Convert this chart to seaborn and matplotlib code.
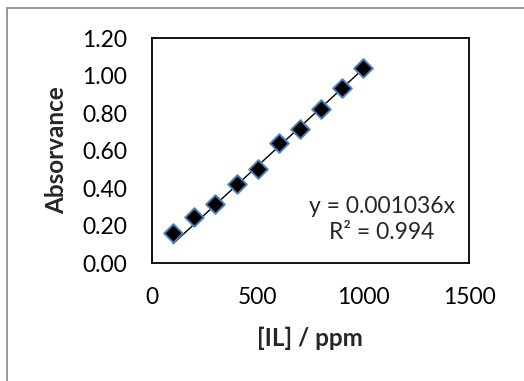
import matplotlib
matplotlib.use("Agg")
import matplotlib.pyplot as plt
import seaborn as sns
import numpy as np
import pandas as pd
from matplotlib.patches import Rectangle

conc = [100, 200, 300, 400, 500, 600, 700, 800, 900, 1000]
absorb = [0.162, 0.245, 0.313, 0.423, 0.503, 0.640, 0.717, 0.821, 0.935, 1.042]
slope = 0.001036
x_ticks = [0, 500, 1000, 1500]
y_ticks = [0.0, 0.2, 0.4, 0.6, 0.8, 1.0, 1.2]

sns.set_theme(style="white")
plt.rcParams['font.family'] = ['Lato', 'DejaVu Sans']

fig = plt.figure(figsize=(5.24, 3.81), dpi=100)
ax = fig.add_axes([152/524, 1-263/381, (469-152)/524, (263-38)/381])

df = pd.DataFrame({"x": conc, "y": absorb})
fit = pd.DataFrame({"x": [conc[0], conc[-1]], "y": [slope*conc[0], slope*conc[-1]]})

sns.lineplot(data=fit, x="x", y="y", ax=ax, color="black", linewidth=1.0, zorder=2)
sns.scatterplot(data=df, x="x", y="y", ax=ax, marker="D", s=90, color="black",
                edgecolor="#4F81BD", linewidth=1.4, zorder=3)

ax.set_xlim(0, 1500)
ax.set_ylim(0, 1.2)
ax.set_xticks(x_ticks)
ax.set_yticks(y_ticks)
ax.set_xticklabels([str(v) for v in x_ticks])
ax.set_yticklabels([f"{v:.2f}" for v in y_ticks])
ax.tick_params(axis="both", which="major", direction="out", length=6, width=1.3,
               labelsize=16.5, colors="black")
ax.tick_params(axis="y", pad=12)
ax.tick_params(axis="x", pad=11)
for sp in ax.spines.values():
    sp.set_color("black")
    sp.set_linewidth(1.3)

ax.set_xlabel("[IL] / ppm", fontsize=17.5, fontweight="bold")
ax.set_ylabel("Absorvance", fontsize=17.5, fontweight="bold")
ax.xaxis.set_label_coords((310-152)/317, (263-338)/225)
ax.yaxis.set_label_coords((57-152)/317, 0.5)
ax.xaxis.label.set_va("center")
ax.yaxis.label.set_va("center")

ax.text(0.726, 0.193, "y = 0.001036x\nR² = 0.994", transform=ax.transAxes,
        ha="center", va="center", fontsize=16.5, linespacing=1.3)

fig.patches.append(Rectangle((7/524, -0.1), 1.2, 1 - 8/381 + 0.1, transform=fig.transFigure,
                             fill=False, edgecolor="#868686", linewidth=1.2))

fig.savefig("out.png", dpi=100)
